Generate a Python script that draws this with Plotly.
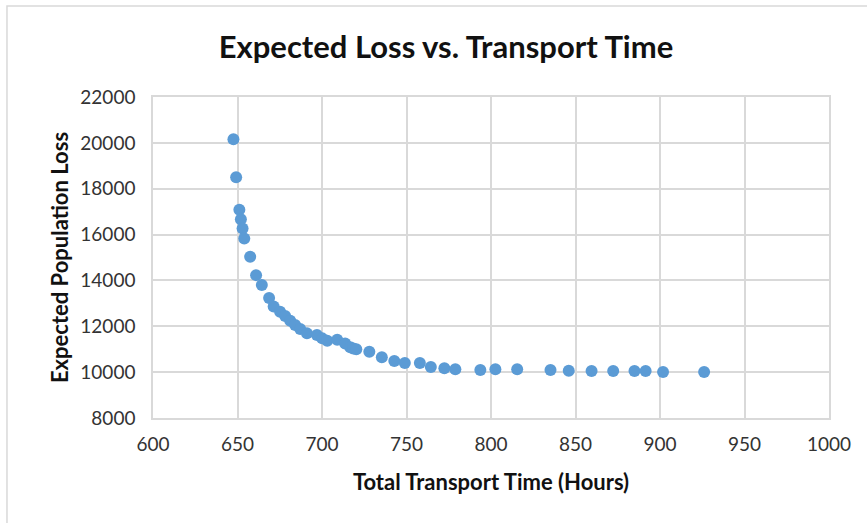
import plotly.graph_objects as go

# Trade-off between total transport time and expected population loss
transport_hours = [
    647.6, 649.2, 651.1, 652.0, 653.0, 654.0, 657.5, 661.0, 664.4, 668.7,
    671.4, 675.2, 678.2, 681.2, 684.1, 687.1, 691.1, 697.0, 700.1, 703.1,
    709.0, 713.7, 716.7, 718.5, 720.3, 728.0, 735.4, 742.8, 749.0, 757.9,
    764.4, 772.4, 778.9, 793.7, 802.6, 815.5, 835.2, 846.0, 859.5, 872.3,
    884.9, 891.5, 901.8, 926.1,
]
expected_loss = [
    20160, 18500, 17085, 16671, 16266, 15830, 15037, 14231, 13796, 13229,
    12859, 12632, 12445, 12240, 12053, 11879, 11691, 11617, 11473, 11369,
    11412, 11247, 11081, 11036, 10994, 10890, 10646, 10484, 10397, 10397,
    10223, 10166, 10123, 10092, 10123, 10123, 10092, 10062, 10049, 10049,
    10049, 10049, 10005, 10005,
]

x_ticks = [600, 650, 700, 750, 800, 850, 900, 950, 1000]
y_ticks = [8000, 10000, 12000, 14000, 16000, 18000, 20000, 22000]

FONT = "Lato"
GRID = "#d9d9d9"

fig = go.Figure(
    go.Scatter(
        x=transport_hours,
        y=expected_loss,
        mode="markers",
        marker=dict(size=12, color="#5b9bd5"),
        hoverinfo="x+y",
    )
)

axis_common = dict(
    showgrid=True,
    gridcolor=GRID,
    gridwidth=1.5,
    showline=True,
    linecolor=GRID,
    linewidth=1.5,
    mirror=True,
    zeroline=False,
    ticks="outside",
    tickcolor="rgba(0,0,0,0)",
    tickformat="d",
    tickfont=dict(family=FONT, size=19, color="#333333"),
)

fig.update_layout(
    width=867,
    height=523,
    margin=dict(l=153, r=38, t=97, b=105),
    paper_bgcolor="white",
    plot_bgcolor="white",
    showlegend=False,
    title=dict(
        text="<b>Expected Loss vs. Transport Time</b>",
        x=446 / 867,
        xanchor="center",
        y=1 - 47 / 523,
        yanchor="middle",
        font=dict(family=FONT, size=31, color="#111111"),
    ),
    xaxis=dict(
        range=[600, 1000],
        tickvals=x_ticks,
        ticklen=8,
        title=dict(
            text="<b>Total Transport Time (Hours)</b>",
            font=dict(family=FONT, size=22, color="#111111"),
            standoff=21,
        ),
        **axis_common,
    ),
    yaxis=dict(
        range=[8000, 22000],
        tickvals=y_ticks,
        ticklen=12,
        title=dict(
            text="<b>Expected Population Loss</b>",
            font=dict(family=FONT, size=22, color="#111111"),
            standoff=6,
        ),
        **axis_common,
    ),
    shapes=[
        # outer chart frame (left and top edges)
        dict(
            type="path",
            xref="paper",
            yref="paper",
            path="M -0.216 -0.4 L -0.216 1.2835 L 1.1 1.2835",
            line=dict(color=GRID, width=1.5),
        )
    ],
)

fig.write_html("out.html")
